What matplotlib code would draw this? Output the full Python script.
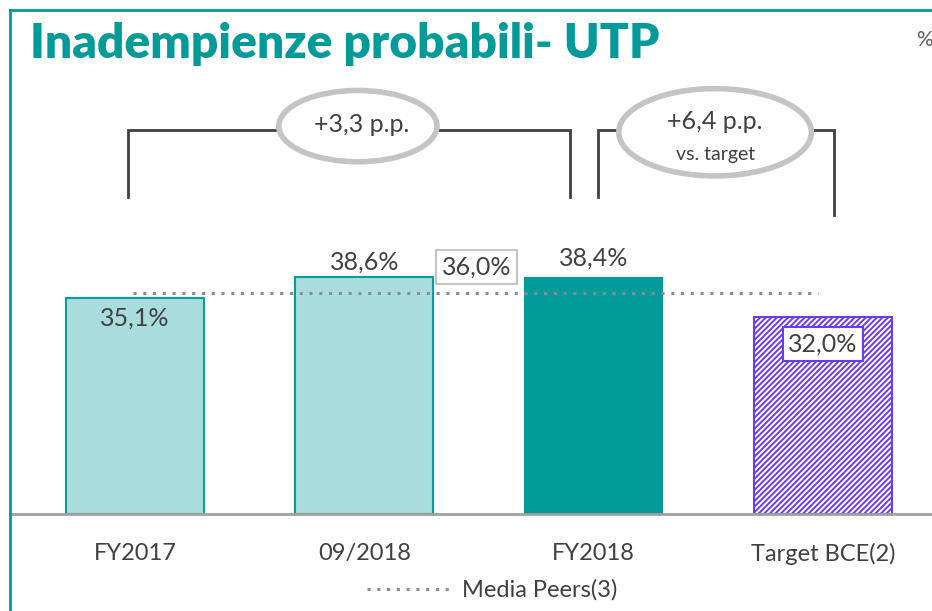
import matplotlib.pyplot as plt
from matplotlib.patches import Ellipse
from matplotlib.lines import Line2D

# dati
categorie = ['FY2017', '09/2018', 'FY2018', 'Target BCE(2)']
valori = [35.1, 38.6, 38.4, 32.0]
etichette = ['35,1%', '38,6%', '38,4%', '32,0%']
media_peers = 36.0
media_peers_label = '36,0%'
delta_1 = '+3,3 p.p.'
delta_2 = '+6,4 p.p.'
delta_2_sub = 'vs. target'

plt.rcParams['font.family'] = ['Lato', 'DejaVu Sans']
plt.rcParams['hatch.linewidth'] = 1.4

teal = '#009B98'
light_teal = '#A9DDDD'
purple = '#6A3BF2'
txt = '#404040'

fig = plt.figure(figsize=(9.32, 6.11), dpi=100)
ax = fig.add_axes([10 / 932, 97 / 611, 922 / 932, 434 / 611])
ax.set_xlim(-0.545, 3.476)
ax.set_ylim(0, 70.6)

x = list(range(len(categorie)))
w = 0.6
# barre
ax.bar(x[:2], valori[:2], width=w, color=light_teal, edgecolor='#00A09C', linewidth=1.5, zorder=2)
ax.bar(x[2], valori[2], width=w, color=teal, edgecolor=teal, linewidth=1.5, zorder=2)
ax.bar(x[3], valori[3], width=w, color='white', edgecolor=purple, hatch='//////',
       linewidth=1.5, zorder=2)

# linea media peers
ax.plot([-0.01, 2.98], [media_peers, media_peers], linestyle=(0, (1, 2.2)), color='#8C8C99',
        linewidth=2.2, zorder=3)

# etichette valori
fs = 18
ax.text(x[0], 31.9, etichette[0], ha='center', va='center', fontsize=fs, color=txt, zorder=4)
ax.text(x[1], 41.0, etichette[1], ha='center', va='center', fontsize=fs, color=txt, zorder=4)
ax.text(x[2], 41.6, etichette[2], ha='center', va='center', fontsize=fs, color=txt, zorder=4)
ax.text(x[3], 27.6, etichette[3], ha='center', va='center', fontsize=fs, color=txt, zorder=4,
        bbox=dict(boxstyle='square,pad=0.22', facecolor='white', edgecolor=purple, linewidth=1.5))
ax.text(1.49, 40.2, media_peers_label, ha='center', va='center', fontsize=fs, color=txt, zorder=4,
        bbox=dict(boxstyle='square,pad=0.22', facecolor='white', edgecolor='#C4C4C4', linewidth=1.5))

# parentesi
br = '#404040'
ax.plot([-0.03, -0.03, 1.896, 1.896], [51.5, 62.4, 62.4, 51.5], color=br, linewidth=2, zorder=2,
        solid_joinstyle='miter')
ax.plot([2.02, 2.02, 3.047, 3.047], [51.5, 62.4, 62.4, 48.7], color=br, linewidth=2, zorder=2,
        solid_joinstyle='miter')
ax.add_patch(Ellipse((0.972, 63.1), 0.69, 11.6, facecolor='white', edgecolor='#C4C4C4',
                     linewidth=4, zorder=3))
ax.add_patch(Ellipse((2.53, 62.1), 0.84, 14.2, facecolor='white', edgecolor='#C4C4C4',
                     linewidth=4, zorder=3))
ax.text(0.99, 63.3, delta_1, ha='center', va='center', fontsize=fs, color=txt, zorder=4)
ax.text(2.53, 63.8, delta_2, ha='center', va='center', fontsize=fs, color=txt, zorder=4)
ax.text(2.53, 58.4, delta_2_sub, ha='center', va='center', fontsize=14, color=txt, zorder=4)

# assi
for s in ['top', 'right', 'left']:
    ax.spines[s].set_visible(False)
ax.spines['bottom'].set_color('#A0A0A0')
ax.spines['bottom'].set_linewidth(2)
ax.set_yticks([])
ax.set_xticks(x)
ax.set_xticklabels(categorie, fontsize=17, color=txt)
ax.tick_params(axis='x', length=0, pad=21)

# legenda
leg_handle = Line2D([], [], linestyle=(0, (1, 2.2)), color='#8C8C99', linewidth=2.2)
fig.legend([leg_handle], ['Media Peers(3)'], loc='center', bbox_to_anchor=(0.528, 0.034),
           frameon=False, fontsize=17, labelcolor=txt, handlelength=3.6, handletextpad=0.4)

# cornice e titolo
fig.add_artist(Line2D([10 / 932, 1], [1 - 10 / 611, 1 - 10 / 611], color=teal, linewidth=2))
fig.add_artist(Line2D([10 / 932, 10 / 932], [0, 1 - 10 / 611], color=teal, linewidth=2))
fig.text(30 / 932, 1 - 44 / 611, 'Inadempienze probabili- UTP', ha='left', va='center',
         fontsize=34.5, fontweight='heavy', color=teal)
fig.text(916 / 932, 1 - 40 / 611, '%', ha='left', va='center', fontsize=15, color='#606060')

fig.savefig('out.png', dpi=100)
